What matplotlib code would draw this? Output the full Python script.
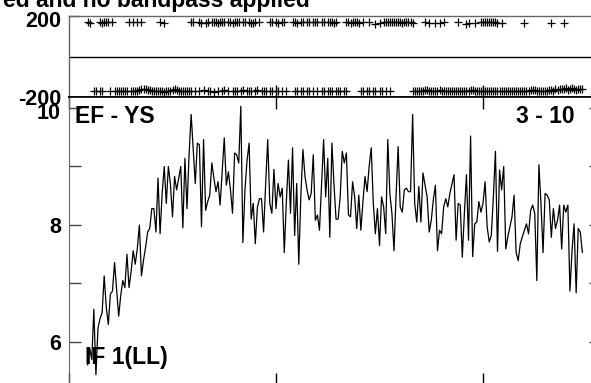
import numpy as np
import matplotlib
matplotlib.use("Agg")
import matplotlib.pyplot as plt
from matplotlib.transforms import ScaledTranslation

plt.rcParams['font.family'] = ['Liberation Sans', 'DejaVu Sans']
plt.rcParams['font.weight'] = 'bold'

# ---- data ----
first_channel = 9
amplitude = [
    5.61, 5.9, 5.7, 6.56, 5.44, 6.24, 6.4, 6.5, 7.13, 6.6,
    6.3, 6.82, 6.87, 7.36, 6.9, 6.44, 6.8, 7.05, 6.93, 7.5,
    6.93, 7.2, 7.56, 7.33, 7.6, 8.0, 7.13, 7.4, 7.62, 7.88,
    7.94, 8.28, 8.28, 7.88, 8.8, 7.85, 8.54, 9.0, 8.37, 9.0,
    8.7, 8.14, 8.83, 8.6, 8.8, 9.0, 7.95, 9.14, 8.28, 9.2,
    9.89, 9.3, 8.71, 9.4, 9.37, 7.97, 9.46, 8.25, 8.4, 8.51,
    9.06, 8.8, 8.57, 8.74, 8.34, 8.9, 9.49, 8.68, 8.91, 8.6,
    8.2, 9.23, 9.2, 9.06, 10.03, 7.7, 8.6, 9.1, 9.4, 8.1,
    8.37, 7.68, 8.3, 8.45, 8.45, 7.88, 8.7, 9.46, 8.37, 8.2,
    8.95, 8.28, 8.71, 8.48, 8.63, 7.53, 8.4, 9.11, 8.2, 9.32,
    7.82, 8.71, 7.33, 8.5, 9.29, 8.83, 8.6, 8.43, 8.54, 9.2,
    8.08, 8.17, 7.91, 8.7, 9.46, 8.48, 9.14, 7.79, 9.4, 8.7,
    8.1, 8.1, 8.48, 9.26, 9.06, 9.23, 8.17, 8.14, 8.74, 8.48,
    7.94, 8.51, 7.91, 8.4, 8.83, 8.57, 9.0, 9.32, 8.37, 7.85,
    8.28, 7.65, 8.48, 8.31, 7.85, 9.46, 8.54, 8.2, 7.56, 8.5,
    9.34, 8.31, 8.22, 8.6, 8.63, 8.57, 8.57, 9.89, 8.37, 8.05,
    8.66, 8.05, 8.89, 8.68, 8.48, 7.88, 8.08, 8.43, 8.68, 7.56,
    7.91, 7.85, 8.31, 8.45, 8.31, 8.54, 8.7, 8.86, 7.74, 8.37,
    8.34, 7.45, 8.2, 8.86, 7.74, 9.52, 7.46, 8.02, 8.05, 8.4,
    8.22, 8.37, 8.74, 7.97, 7.71, 7.82, 8.48, 9.26, 7.55, 8.94,
    8.6, 9.0, 7.59, 7.8, 7.97, 8.14, 8.51, 7.53, 7.39, 7.68,
    7.8, 7.91, 8.02, 7.85, 8.25, 8.34, 8.2, 7.05, 9.03, 8.37,
    7.53, 8.54, 8.51, 8.43, 7.79, 8.28, 7.94, 8.08, 8.34, 7.59,
    8.34, 8.22, 8.34, 6.87, 7.56, 8.02, 6.84, 7.94, 7.88, 7.53,
]

phase_top_ch = [
    9, 10, 15, 16, 17, 18, 19, 21,
    29, 31, 33, 35, 44, 46,
    59, 60, 63, 64, 66, 67, 69, 70, 71, 72,
    73, 74, 75, 77, 78, 79, 80, 81, 82, 84,
    85, 87, 88, 89, 90, 92, 97, 98, 100, 101,
    103, 104, 108, 109, 110, 112, 113, 115, 116, 118,
    119, 120, 122, 123, 125, 126, 127, 128, 129, 134,
    135, 136, 137, 138, 139, 140, 142, 145, 148, 150,
    152, 153, 154, 155, 156, 157, 158, 159, 160, 161,
    162, 163, 164, 165, 166, 172, 174, 177, 179, 181,
    188, 192, 193, 196, 199, 200, 201, 202, 203, 204,
    205, 206, 207, 209, 220, 233, 239,
]
phase_top = [
    171, 168, 170, 164, 169, 172, 170, 171,
    170, 169, 171, 170, 170, 168,
    172, 170, 171, 164, 168, 170, 169, 171, 170, 168,
    170, 171, 169, 170, 172, 168, 170, 171, 169, 170,
    171, 170, 167, 165, 170, 171, 172, 170, 171, 168,
    170, 169, 171, 170, 166, 170, 171, 169, 170, 172,
    170, 171, 169, 170, 172, 171, 170, 168, 170, 171,
    170, 166, 169, 171, 170, 168, 170, 171, 163, 168,
    170, 171, 169, 172, 170, 171, 169, 170, 171, 168,
    170, 171, 169, 170, 168, 170, 165, 166, 168, 172,
    172, 160, 164, 168, 171, 170, 172, 169, 171, 170,
    169, 171, 168, 167, 165, 167, 168,
]

phase_bot_ch = [
    12, 13, 15, 16, 20, 22, 23, 24, 25, 26,
    27, 28, 30, 31, 32, 33, 34, 35, 36, 37,
    38, 39, 40, 41, 42, 43, 44, 45, 46, 47,
    48, 49, 50, 51, 52, 53, 54, 55, 56, 57,
    58, 59, 61, 63, 65, 67, 68, 70, 72, 74,
    75, 77, 79, 80, 81, 83, 84, 86, 87, 88,
    90, 91, 93, 94, 95, 97, 98, 100, 101, 103,
    105, 109, 110, 112, 113, 115, 116, 118, 120, 122,
    123, 125, 126, 127, 129, 130, 131, 133, 134, 141,
    142, 144, 145, 147, 148, 150, 151, 153, 155, 166,
    167, 168, 169, 170, 171, 172, 173, 174, 175, 176,
    177, 178, 179, 180, 181, 182, 183, 184, 185, 186,
    187, 188, 189, 190, 191, 192, 193, 194, 195, 196,
    197, 198, 199, 200, 201, 202, 203, 204, 205, 206,
    207, 208, 209, 210, 211, 212, 213, 214, 215, 216,
    217, 218, 219, 220, 221, 222, 223, 224, 225, 226,
    227, 228, 229, 230, 231, 232, 233, 234, 235, 236,
    237, 238, 239, 240, 241, 242, 243, 244, 245, 246,
    247, 248,
]
phase_bot = [
    -171, -168, -170, -169, -170, -171, -169, -170, -168, -171,
    -170, -169, -171, -168, -170, -167, -165, -160, -157, -158,
    -163, -166, -168, -170, -169, -171, -168, -170, -172, -169,
    -170, -168, -165, -160, -163, -169, -170, -168, -171, -170,
    -169, -170, -171, -169, -166, -170, -168, -172, -169, -170,
    -162, -168, -170, -171, -169, -170, -165, -168, -171, -170,
    -169, -166, -170, -171, -169, -170, -168, -171, -170, -169,
    -170, -169, -171, -170, -168, -171, -170, -169, -171, -170,
    -169, -171, -170, -168, -170, -171, -169, -170, -168, -171,
    -170, -169, -168, -171, -170, -169, -171, -170, -169, -171,
    -170, -169, -170, -171, -168, -166, -163, -168, -170, -169,
    -171, -170, -165, -169, -170, -171, -168, -170, -169, -171,
    -170, -169, -171, -168, -170, -169, -171, -166, -162, -170,
    -169, -171, -170, -169, -168, -170, -171, -169, -170, -168,
    -170, -169, -171, -170, -169, -171, -170, -169, -168, -170,
    -169, -170, -171, -169, -168, -167, -166, -165, -163, -168,
    -169, -170, -168, -167, -169, -166, -163, -168, -160, -163,
    -157, -160, -158, -156, -162, -159, -155, -160, -163, -158,
    -157, -161,
]

title_text = "ed and no bandpass applied"
baseline_label = "EF - YS"
time_label = "3 - 10"
if_label = "IF 1(LL)"

# ---- figure ----
W, H = 591, 383
fig = plt.figure(figsize=(W / 100, H / 100), dpi=100)

def fx(px):
    return px / W

def fy(py):
    return 1 - py / H

x0, x1 = 69, 601
ph_top, ph_bot = 16, 97.3
am_bot = 385

ax1 = fig.add_axes([fx(x0), fy(ph_bot), (x1 - x0) / W, (ph_bot - ph_top) / H])
ax2 = fig.add_axes([fx(x0), fy(am_bot), (x1 - x0) / W, (am_bot - ph_bot) / H])

xmax = 257
channels = np.arange(first_channel, first_channel + len(amplitude))

# phase panel
ax1.plot(phase_top_ch, phase_top, linestyle='none', marker='+', color='black',
         markersize=5.8, markeredgewidth=0.9)
ax1.plot(phase_bot_ch, phase_bot, linestyle='none', marker='+', color='black',
         markersize=5.8, markeredgewidth=0.9)
ax1.axhline(0, color='black', lw=1.0)
ax1.set_xlim(0, xmax)
ax1.set_ylim(-200, 200)
ax1.set_yticks([-200, 200])
ax1.set_yticklabels(['-200', '200'])
ax1.set_xticks([100, 200])
ax1.tick_params(axis='x', direction='in', length=8.6, width=1, bottom=True, top=False,
                labelbottom=False, color='black')
ax1.tick_params(axis='y', direction='in', length=7, width=1, left=True, right=False,
                labelsize=15.5, pad=5.8, color='#555555')
for s in ['left', 'top']:
    ax1.spines[s].set_color('#666666')
    ax1.spines[s].set_linewidth(1)
ax1.spines['bottom'].set_color('black')
ax1.spines['bottom'].set_linewidth(1.2)
ax1.spines['right'].set_visible(False)

# amplitude panel
ax2.plot(channels, amplitude, color='black', lw=0.9)
ax2.set_xlim(0, xmax)
ax2.set_ylim(10 - (am_bot - 108) / 58.5, 10 + (108 - ph_bot) / 58.5)
ax2.set_yticks([6, 7, 8, 9, 10])
ax2.set_yticklabels(['6', '', '8', '', '10'])
ax2.set_xticks([0, 100, 200])
ax2.tick_params(axis='x', direction='in', length=8.6, width=1, bottom=True, top=True,
                labelbottom=False, color='black')
ax2.tick_params(axis='y', direction='in', length=8.6, width=1, left=True, right=True,
                labelsize=15.5, pad=5.8, color='#444444')
ax2.spines['left'].set_color('#666666')
ax2.spines['top'].set_color('black')
ax2.spines['top'].set_linewidth(1.2)
ax2.spines['right'].set_color('black')
ax2.spines['bottom'].set_color('black')

for ax in (ax1, ax2):
    for lab in ax.get_yticklabels():
        lab.set_fontweight('bold')

# nudge the top labels slightly downward, as in the reference
shift = ScaledTranslation(0, -3 / 100, fig.dpi_scale_trans)
labs1 = ax1.get_yticklabels()
labs1[1].set_transform(labs1[1].get_transform() + shift)
labs2 = ax2.get_yticklabels()
labs2[4].set_transform(labs2[4].get_transform() + shift)

fig.text(fx(310), fy(7.5), title_text, ha='right', va='baseline', fontsize=16.5,
         fontweight='bold')
fig.text(fx(75), fy(123.3), baseline_label, ha='left', va='baseline', fontsize=16.5,
         fontweight='bold')
fig.text(fx(575), fy(123.3), time_label, ha='right', va='baseline', fontsize=16.5,
         fontweight='bold')
fig.text(fx(85), fy(364), if_label, ha='left', va='baseline', fontsize=16.5,
         fontweight='bold')

fig.savefig('out.png', dpi=100)
